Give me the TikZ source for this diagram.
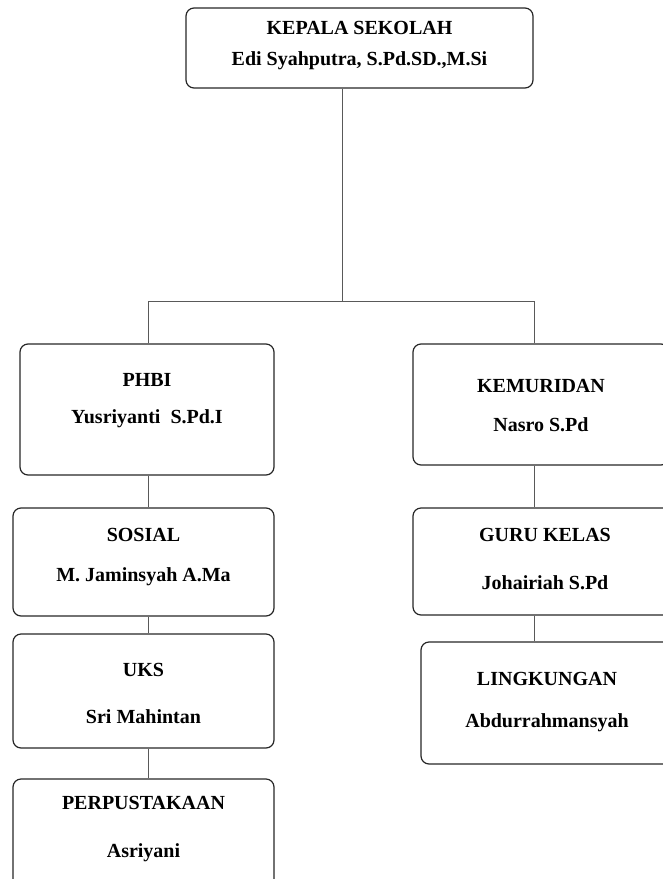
\documentclass[tikz,border=0pt]{standalone}
\usepackage{fontspec}
\setmainfont{Liberation Serif}
\usepackage{tikz}
\usetikzlibrary{positioning}

\tikzset{
  unit/.style={draw=black!85, line width=1.2pt, rounded corners=8pt, inner sep=0pt},
  label/.style={anchor=base, inner sep=0pt, font=\fontsize{20}{24}\selectfont\bfseries},
  link/.style={draw=black!65, line width=1pt}
}

\begin{document}
\begin{tikzpicture}[x=1pt,y=-1pt]
    \useasboundingbox (0,0) rectangle (662,879);

    % Head of school
    \node[unit, minimum width=347pt, minimum height=80pt] (kepala) at (359.5,48) {};
    \node[label] (kepala-1) at ([yshift=-27pt]kepala.north) {KEPALA SEKOLAH};
    \node[label] (kepala-2) at ([yshift=-58pt]kepala.north) {Edi Syahputra, S.Pd.SD.,M.Si};

    % Left column
    \node[unit, minimum width=254pt, minimum height=131pt] (phbi) at (147,409.5) {};
    \node[label] (phbi-1) at ([yshift=-43pt]phbi.north) {PHBI};
    \node[label] (phbi-2) at ([yshift=-80pt]phbi.north) {Yusriyanti\ \ S.Pd.I};

    \node[unit, minimum width=261pt, minimum height=108pt] (sosial) at (143.5,562) {};
    \node[label] (sosial-1) at ([yshift=-34pt]sosial.north) {SOSIAL};
    \node[label] (sosial-2) at ([yshift=-74pt]sosial.north) {M. Jaminsyah A.Ma};

    \node[unit, minimum width=261pt, minimum height=114pt] (uks) at (143.5,691) {};
    \node[label] (uks-1) at ([yshift=-43pt]uks.north) {UKS};
    \node[label] (uks-2) at ([yshift=-90pt]uks.north) {Sri Mahintan};

    \node[unit, minimum width=261pt, minimum height=121pt] (perpus) at (143.5,839.5) {};
    \node[label] (perpus-1) at ([yshift=-31pt]perpus.north) {PERPUSTAKAAN};
    \node[label] (perpus-2) at ([yshift=-79pt]perpus.north) {Asriyani};

    % Right column
    \node[unit, minimum width=256pt, minimum height=121pt] (kemuridan) at (541,404.5) {};
    \node[label] (kemuridan-1) at ([yshift=-49pt]kemuridan.north) {KEMURIDAN};
    \node[label] (kemuridan-2) at ([yshift=-88pt]kemuridan.north) {Nasro S.Pd};

    \node[unit, minimum width=264pt, minimum height=107pt] (guru) at (545,561.5) {};
    \node[label] (guru-1) at ([yshift=-34pt]guru.north) {GURU KELAS};
    \node[label] (guru-2) at ([yshift=-82pt]guru.north) {Johairiah S.Pd};

    \node[unit, minimum width=252pt, minimum height=122pt] (lingkungan) at (547,703) {};
    \node[label] (lingkungan-1) at ([yshift=-44pt]lingkungan.north) {LINGKUNGAN};
    \node[label] (lingkungan-2) at ([yshift=-86pt]lingkungan.north) {Abdurrahmansyah};

    % Connectors
    \coordinate (split) at (342,301);
    \coordinate (lline) at (148,301);
    \coordinate (rline) at (534,301);
    \draw[link] (kepala.south -| split) -- (split);
    \draw[link] (phbi.north -| lline) -- (lline) -- (rline) -- (kemuridan.north -| rline);
    \draw[link] (phbi.south -| lline) -- (sosial.north -| lline);
    \draw[link] (sosial.south -| lline) -- (uks.north -| lline);
    \draw[link] (uks.south -| lline) -- (perpus.north -| lline);
    \draw[link] (kemuridan.south -| rline) -- (guru.north -| rline);
    \draw[link] (guru.south -| rline) -- (lingkungan.north -| rline);
\end{tikzpicture}
\end{document}
